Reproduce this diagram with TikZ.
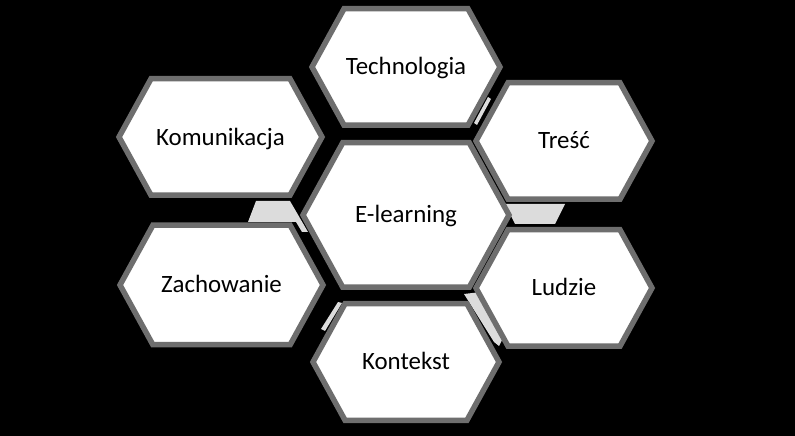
\documentclass[tikz,border=0pt]{standalone}
\usepackage{fontspec}
\setmainfont{Carlito}
\definecolor{hexgray}{HTML}{6E6E6E}
\definecolor{bevelgray}{HTML}{DCDCDC}
\tikzset{
  hexbox/.style={draw=hexgray, line width=5.5bp, fill=white, line join=miter},
  lbl/.style={font=\fontsize{25}{30}\selectfont, text=black, inner sep=0pt, anchor=base},
  bevel/.style={fill=bevelgray, draw=none}
}
\newcommand\hexshape[4]{%
  \pgfmathsetmacro\hxw{#3-3}%
  \pgfmathsetmacro\hxh{#4-2.75}%
  \pgfmathsetmacro\hxs{\hxh*0.55}%
  \draw[hexbox] ({#1-\hxw},{#2}) -- ({#1-\hxw+\hxs},{#2-\hxh}) -- ({#1+\hxw-\hxs},{#2-\hxh})
    -- ({#1+\hxw},{#2}) -- ({#1+\hxw-\hxs},{#2+\hxh}) -- ({#1-\hxw+\hxs},{#2+\hxh}) -- cycle;}
\begin{document}
\begin{tikzpicture}[x=1bp,y=-1bp]
\fill[black] (0,0) rectangle (795,436);
\useasboundingbox (0,0) rectangle (795,436);
% bevel pieces in the gaps
\fill[bevel] (256,201) -- (290,201) -- (308,232) -- (302,232) -- (296,222) -- (248,222) -- cycle;
\fill[bevel] (488,97) -- (491,99) -- (477,125) -- (474,123) -- cycle;
\fill[bevel] (505,204) -- (565,204) -- (555,224) -- (515,224) -- cycle;
\fill[bevel] (464,294) -- (481,292) -- (504,336) -- (499,346) -- (494,342) -- cycle;
\fill[bevel] (338,302) -- (342,303) -- (325,331) -- (321,329) -- cycle;
% hexagons
\hexshape{406}{67}{97}{61}
\hexshape{564}{141}{91}{61}
\hexshape{220.5}{137}{104.5}{61}
\hexshape{406}{215}{106}{75}
\hexshape{221.5}{285}{104.5}{62.5}
\hexshape{406}{362}{96}{61}
\hexshape{564}{288}{91}{61}
% labels
\node[lbl] (tech) at (406,75) {Technologia};
\node[lbl] (tresc) at (564,149) {Treść};
\node[lbl] (komu) at (220.5,146) {Komunikacja};
\node[lbl] (elearn) at (406,223) {E-learning};
\node[lbl] (zach) at (221.5,293) {Zachowanie};
\node[lbl] (kont) at (406,370) {Kontekst};
\node[lbl] (ludz) at (564,296) {Ludzie};
\end{tikzpicture}
\end{document}
